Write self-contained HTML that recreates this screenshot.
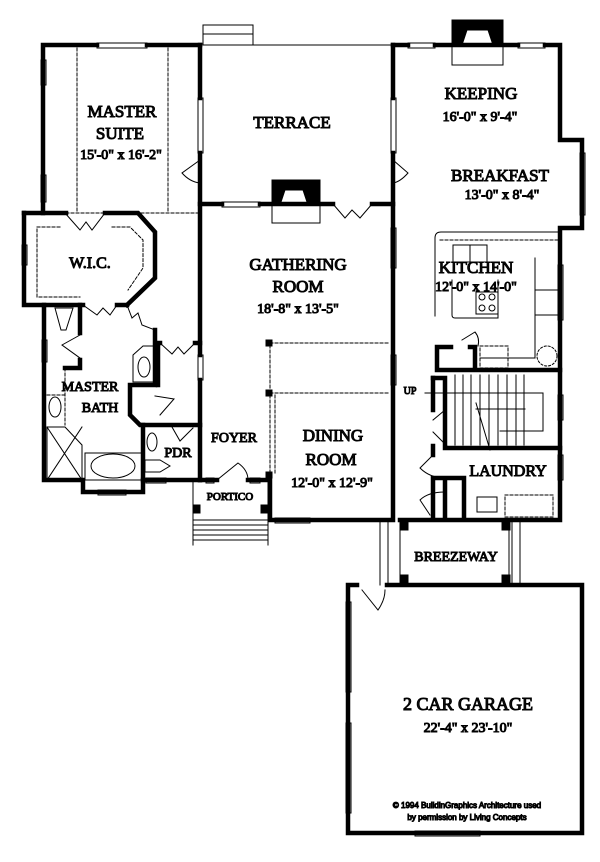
<!DOCTYPE html>
<html><head><meta charset="utf-8"><style>
html,body{margin:0;padding:0;background:#fff}
svg{display:block}
text{font-family:"Liberation Serif",serif;fill:#111;text-anchor:middle;font-weight:normal}
.s{font-family:"Liberation Sans",sans-serif}
</style></head><body>
<svg width="600" height="862" viewBox="0 0 600 862" xmlns="http://www.w3.org/2000/svg">
<g fill="none" stroke="#000" stroke-linecap="square">
<g stroke-width="1">
<rect x="203" y="25" width="50" height="20"/><line x1="203" y1="34" x2="253" y2="34"/>
<line x1="253" y1="45" x2="393" y2="45"/>
<rect x="272" y="205" width="48" height="18"/>
<rect x="452" y="45" width="51" height="20"/>
<g stroke-dasharray="3,2"><line x1="77" y1="48" x2="77" y2="212"/><line x1="168" y1="48" x2="168" y2="212"/><line x1="66" y1="213" x2="200" y2="213"/>
<line x1="270" y1="343" x2="390" y2="343"/><line x1="270" y1="393" x2="390" y2="393"/><line x1="270" y1="345" x2="270" y2="475"/><line x1="275" y1="395" x2="275" y2="475"/>
<path d="M60 227 H37 V297 H80"/><path d="M112 227 H130 L143 240 V268 L128 290"/></g>
<path d="M435 316 V238 Q435 232 441 232 H560"/><line x1="440" y1="240" x2="560" y2="240" stroke-dasharray="3,2"/>
<path d="M453 245 V262 H470 V245 Z M470 245 V262 H487 V245 Z"/>
<path d="M452 280 V315 Q452 318 455 318 H498 V280"/><rect x="476" y="292" width="22" height="22"/>
<circle cx="482" cy="297" r="3"/><circle cx="492" cy="297" r="3"/><circle cx="482" cy="308" r="3"/><circle cx="492" cy="308" r="3"/>
<path d="M535 258 V358 H480"/><line x1="535" y1="290" x2="560" y2="290"/><line x1="535" y1="315" x2="560" y2="315"/>
<circle cx="547" cy="356" r="10" stroke-dasharray="2,2"/><rect x="480" y="346" width="28" height="22" stroke-dasharray="3,2"/>
<g><line x1="455" y1="375" x2="455" y2="445"/><line x1="463" y1="375" x2="463" y2="445"/><line x1="471" y1="375" x2="471" y2="445"/><line x1="480" y1="375" x2="480" y2="445"/><line x1="489" y1="375" x2="489" y2="445"/><line x1="498" y1="375" x2="498" y2="445"/><line x1="507" y1="375" x2="507" y2="445"/><line x1="516" y1="375" x2="516" y2="445"/><line x1="524" y1="375" x2="524" y2="445"/></g>
<path d="M425 393 H543 V431 H500"/><line x1="476" y1="409" x2="525" y2="409"/><line x1="476" y1="403" x2="490" y2="450"/>
<rect x="477" y="497" width="20" height="15"/><rect x="505" y="495" width="48" height="22" stroke-dasharray="3,2"/>
<!-- bath fixtures -->
<ellipse cx="55" cy="407" rx="6" ry="10"/><path d="M55 308 H73 L66 330 H61 Z"/>
<line x1="47" y1="395" x2="65" y2="395" stroke-dasharray="3,2"/><line x1="65" y1="368" x2="65" y2="425" stroke-dasharray="3,2"/>
<ellipse cx="113" cy="466" rx="22" ry="12"/><rect x="85" y="453" width="57" height="27"/>
<path d="M47 427 H65 L82 445 V480 H47 Z"/><line x1="47" y1="427" x2="82" y2="480"/><line x1="82" y1="427" x2="47" y2="480"/>
<path d="M133 355 L143 346 H155 V382 H133 Z"/><ellipse cx="144" cy="367" rx="6" ry="10"/>
<ellipse cx="152" cy="442" rx="5" ry="9"/><path d="M145 460 H160 L170 466 L160 472 H145 Z"/>
<path d="M155 396 L174 399 L160 415"/>
<path d="M172 427 L180 441 L193 428"/>
<line x1="193" y1="520" x2="268" y2="520"/><line x1="193" y1="525" x2="268" y2="525"/><line x1="193" y1="530" x2="268" y2="530"/><line x1="193" y1="535" x2="268" y2="535"/><line x1="193" y1="540" x2="268" y2="540"/>
<line x1="193" y1="480" x2="193" y2="545"/><line x1="268" y1="480" x2="268" y2="545"/>
<line x1="380" y1="520" x2="380" y2="585"/><line x1="388" y1="520" x2="388" y2="585"/><line x1="512" y1="520" x2="512" y2="585"/><line x1="520" y1="520" x2="520" y2="585"/>
<line x1="400" y1="520" x2="400" y2="585"/><line x1="509" y1="520" x2="509" y2="585"/>
<path d="M200 160 L182 173 Q190 182 200 183"/><path d="M393 160 L408 173 Q400 182 393 183"/>
<path d="M217 480 L238 463 Q248 470 248 480"/><path d="M462 340 L475 332 Q480 338 478 346"/>
<path d="M333 204 L345 218 L352 210 L360 218 L372 204"/><path d="M65 213 L80 230 L86 222 L92 230 L105 213"/>
<path d="M83 305 L97 315 L103 308 L110 315 L117 305"/>
<path d="M127 305 L132 318 L138 313 L142 325 L155 330"/>
<path d="M160 343 L172 354 L178 347 L184 354 L195 343"/>
<path d="M80 335 L62 345 L80 358"/>
<path d="M433 420 L445 410 M433 432 L447 446"/><path d="M433 455 L420 468 Q430 478 445 478"/>
<path d="M430 515 L420 500 Q428 492 445 492"/>
<path d="M362 590 L378 610 Q385 600 385 590"/>
</g>
<g stroke-width="1" fill="#fff"><rect x="97" y="43" width="50" height="5"/><rect x="41" y="60" width="5" height="25"/><rect x="41" y="175" width="5" height="27"/><rect x="198" y="98" width="5" height="55"/><rect x="222" y="202" width="38" height="5"/>
<rect x="408" y="43" width="27" height="5"/><rect x="518" y="43" width="27" height="5"/><rect x="580" y="153" width="5" height="62"/><rect x="558" y="265" width="5" height="55"/><rect x="558" y="395" width="5" height="25"/><rect x="558" y="455" width="5" height="25"/>
<rect x="391" y="98" width="5" height="55"/><rect x="391" y="228" width="5" height="40"/><rect x="391" y="355" width="5" height="30"/><rect x="198" y="355" width="5" height="25"/>
<rect x="22" y="245" width="5" height="20"/><rect x="42" y="340" width="5" height="22"/><rect x="98" y="490" width="28" height="5"/><rect x="146" y="478" width="20" height="5"/><rect x="206" y="478" width="8" height="5"/><rect x="250" y="478" width="10" height="5"/><rect x="275" y="518" width="35" height="5"/>
<rect x="346" y="602" width="5" height="90" /><rect x="346" y="723" width="5" height="90"/><rect x="415" y="831" width="65" height="5"/></g>
<g stroke-width="4.5">
<path d="M43 45 H97 M147 45 H200 M43 45 V213"/>
<path d="M200 45 V98 M200 153 V355 M200 380 V480"/>
<path d="M200 204 H222 M260 204 H333 M372 204 H393"/>
<path d="M393 45 V98 M393 153 V520 H270 V475"/>
<path d="M393 45 H408 M435 45 H518 M545 45 H560 V140 H582 V228 H560 V520 H400"/>
<path d="M24 213 H66 M105 213 H138 L155 232 V278 L127 305"/>
<path d="M24 213 V305 H44 V480 H83 V492 H143 V480 H200"/>
<path d="M44 305 H83 M117 305 H127"/>
<path d="M80 305 V333 M80 360 V368 H65"/>
<path d="M155 330 V385 H130 V415 L140 425 H200"/>
<path d="M143 425 V480"/>
<path d="M158 343 V385 M158 343 H160 M195 343 H200"/>
<path d="M200 480 H217 M248 480 H268"/>
<path d="M437 370 H560 M437 370 V347 H451 M470 347 H475 V370"/>
<path d="M433 378 H445 V448 H560"/>
<path d="M433 378 V410 M433 446 V455 M445 480 V518 M433 478 V518 M433 478 H464 V518"/>
<path d="M348 585 H357 M387 585 H582 V833 H348 V585"/>
</g>
<g fill="#000">
<path d="M272 180 H320 V205 H308 L303 190 H285 L280 205 H272 Z"/>
<path d="M452 20 H503 V45 H493 L488 30 H467 L462 45 H452 Z"/>
<rect x="266" y="340" width="6" height="6"/><rect x="266" y="390" width="6" height="6"/><rect x="266" y="472" width="6" height="6"/>
<rect x="193" y="505" width="7" height="8"/><rect x="261" y="505" width="7" height="8"/>
<rect x="400" y="522" width="8" height="8"/><rect x="502" y="522" width="8" height="8"/><rect x="400" y="575" width="8" height="8"/><rect x="502" y="575" width="8" height="8"/>
</g>
<text x="122" y="117" font-size="17">MASTER</text><text x="120" y="139" font-size="17">SUITE</text><text x="121" y="159" font-size="14">15'-0" x 16'-2"</text>
<text x="292" y="128" font-size="17">TERRACE</text>
<text x="90" y="268" font-size="16">W.I.C.</text>
<text x="298" y="270" font-size="17">GATHERING</text><text x="298" y="292" font-size="17">ROOM</text><text x="298" y="313" font-size="14">18'-8" x 13'-5"</text>
<text x="481" y="99" font-size="17">KEEPING</text><text x="480" y="121" font-size="14">16'-0" x 9'-4"</text>
<text x="500" y="181" font-size="17">BREAKFAST</text><text x="502" y="199" font-size="14">13'-0" x 8'-4"</text>
<text x="476" y="273" font-size="17">KITCHEN</text><text x="476" y="291" font-size="14">12'-0" x 14'-0"</text>
<text x="333" y="441" font-size="17">DINING</text><text x="331" y="465" font-size="17">ROOM</text><text x="332" y="487" font-size="14">12'-0" x 12'-9"</text>
<text x="234" y="442" font-size="14">FOYER</text>
<text x="90" y="391" font-size="14">MASTER</text><text x="100" y="412" font-size="14">BATH</text>
<text x="178" y="457" font-size="14">PDR</text>
<text x="230" y="500" font-size="11">PORTICO</text>
<text x="410" y="394" font-size="10">UP</text>
<text x="508" y="476" font-size="16">LAUNDRY</text>
<text x="456" y="561" font-size="14">BREEZEWAY</text>
<text x="468" y="710" font-size="18">2 CAR GARAGE</text><text x="468" y="732" font-size="14">22'-4" x 23'-10"</text>
<text class="s" x="467" y="808" font-size="8">© 1994 BuildinGraphics Architecture used</text>
<text class="s" x="467" y="820" font-size="8">by permission by Living Concepts</text>
</svg>
</body></html>
